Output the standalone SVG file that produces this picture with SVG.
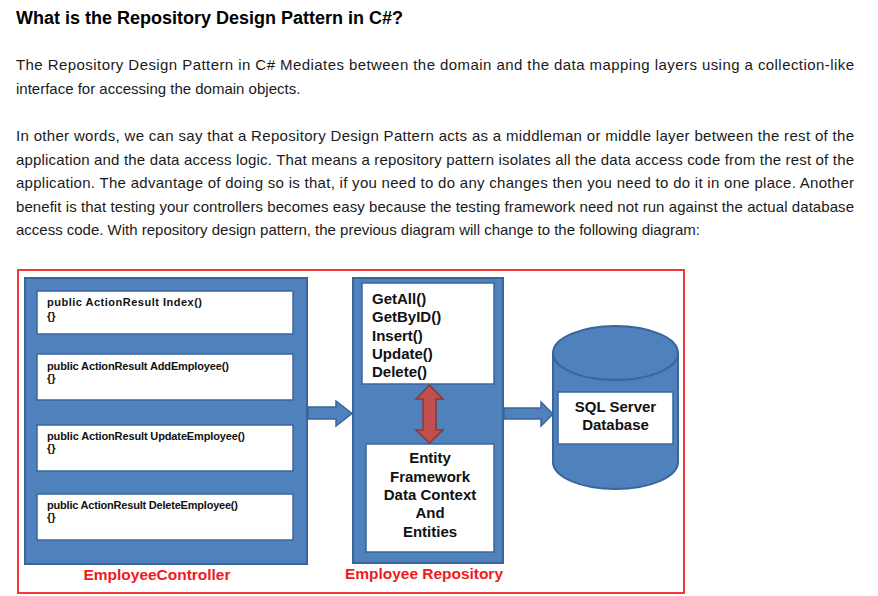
<svg xmlns="http://www.w3.org/2000/svg" width="878" height="596" viewBox="0 0 878 596">
<style>
  .body{font-family:"Liberation Sans",Arial,sans-serif;font-size:15px;fill:#1a1a1a;}
  .h{font-family:"Liberation Sans",Arial,sans-serif;font-size:18px;font-weight:bold;fill:#000;}
  .panel{fill:#4f81bd;stroke:#3a659a;stroke-width:2;}
  .wbox{fill:#fff;stroke:#3a659a;stroke-width:1.5;}
  .m{font-family:"Liberation Sans",Arial,sans-serif;font-size:11px;font-weight:bold;fill:#111;}
  .b{font-family:"Liberation Sans",Arial,sans-serif;font-size:15px;font-weight:bold;fill:#111;}
  .lbl{font-family:"Liberation Sans",Arial,sans-serif;font-size:15.5px;font-weight:bold;fill:#f01a1a;}
  .barrow{fill:#4f81bd;stroke:#3a659a;stroke-width:1.5;}
  .rarrow{fill:#c0504d;stroke:#8c3836;stroke-width:1.5;}
</style>
<rect width="878" height="596" fill="#fff"/>
<text class="h" x="16" y="24">What is the Repository Design Pattern in C#?</text>
<text class="body" x="16" y="70" textLength="838" lengthAdjust="spacing">The Repository Design Pattern in C# Mediates between the domain and the data mapping layers using a collection-like</text>
<text class="body" x="16" y="94">interface for accessing the domain objects.</text>
<text class="body" x="16" y="141" textLength="838" lengthAdjust="spacing">In other words, we can say that a Repository Design Pattern acts as a middleman or middle layer between the rest of the</text>
<text class="body" x="16" y="165" textLength="838" lengthAdjust="spacing">application and the data access logic. That means a repository pattern isolates all the data access code from the rest of the</text>
<text class="body" x="16" y="188" textLength="838" lengthAdjust="spacing">application. The advantage of doing so is that, if you need to do any changes then you need to do it in one place. Another</text>
<text class="body" x="16" y="212" textLength="838" lengthAdjust="spacing">benefit is that testing your controllers becomes easy because the testing framework need not run against the actual database</text>
<text class="body" x="16" y="235" textLength="684" lengthAdjust="spacing">access code. With repository design pattern, the previous diagram will change to the following diagram:</text>

<rect x="18" y="270" width="666" height="323" fill="#fff" stroke="#f03a3a" stroke-width="2"/>

<g id="employee-controller">
  <rect class="panel" x="25" y="278" width="282" height="286"/>
  <text class="lbl" x="157" y="580" text-anchor="middle" textLength="147" lengthAdjust="spacing">EmployeeController</text>
</g>
<g id="index">
  <rect class="wbox" x="37" y="291" width="256" height="43"/>
  <text class="m" x="47" y="306" textLength="155" lengthAdjust="spacing">public ActionResult Index()</text>
  <text class="m" x="47" y="320">{}</text>
</g>
<g id="add-employee">
  <rect class="wbox" x="37" y="354" width="256" height="46"/>
  <text class="m" x="47" y="370" textLength="182" lengthAdjust="spacing">public ActionResult AddEmployee()</text>
  <text class="m" x="47" y="382">{}</text>
</g>
<g id="update-employee">
  <rect class="wbox" x="37" y="425" width="256" height="46"/>
  <text class="m" x="47" y="440" textLength="198" lengthAdjust="spacing">public ActionResult UpdateEmployee()</text>
  <text class="m" x="47" y="452">{}</text>
</g>
<g id="delete-employee">
  <rect class="wbox" x="37" y="494" width="256" height="46"/>
  <text class="m" x="47" y="509" textLength="191" lengthAdjust="spacing">public ActionResult DeleteEmployee()</text>
  <text class="m" x="47" y="521">{}</text>
</g>

<g id="employee-repository">
  <rect class="panel" x="353" y="278" width="150" height="285"/>
  <text class="lbl" x="424" y="579" text-anchor="middle" textLength="158" lengthAdjust="spacing">Employee Repository</text>
</g>
<g id="repository-methods">
  <rect class="wbox" x="362" y="283" width="132" height="101"/>
  <text class="b" x="372" y="304">GetAll()</text>
  <text class="b" x="372" y="322">GetByID()</text>
  <text class="b" x="372" y="341">Insert()</text>
  <text class="b" x="372" y="359">Update()</text>
  <text class="b" x="372" y="377">Delete()</text>
</g>
<g id="entity-framework">
  <rect class="wbox" x="366" y="444" width="128" height="108"/>
  <text class="b" x="430" y="463" text-anchor="middle">Entity</text>
  <text class="b" x="430" y="482" text-anchor="middle">Framework</text>
  <text class="b" x="430" y="500" text-anchor="middle">Data Context</text>
  <text class="b" x="430" y="518" text-anchor="middle">And</text>
  <text class="b" x="430" y="537" text-anchor="middle">Entities</text>
</g>

<g id="sql-server-database">
  <path class="panel" d="M553,353 V462 A62.5,27 0 0 0 678,462 V353"/>
  <ellipse class="panel" cx="615.5" cy="353" rx="62.5" ry="27"/>
  <rect class="wbox" x="558" y="392" width="115" height="52"/>
  <text class="b" x="615.5" y="412" text-anchor="middle">SQL Server</text>
  <text class="b" x="615.5" y="430" text-anchor="middle">Database</text>
</g>

<g id="connectors">
  <path class="barrow" d="M308,407 H336 V401 L352,413.5 L336,426 V419 H308 Z"/>
  <path class="barrow" d="M504,408 H541 V402 L553,414 L541,426 V419 H504 Z"/>
  <path class="rarrow" d="M429.5,385 L443,399 H436 V430 H443 L429.5,443 L416,430 H423 V399 H416 Z"/>
</g>
</svg>
